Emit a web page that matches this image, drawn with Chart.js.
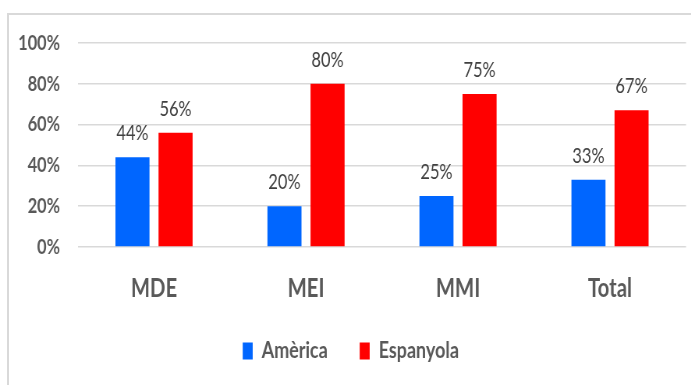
<!DOCTYPE html>
<html>
<head>
<meta charset="utf-8">
<script src="https://cdn.jsdelivr.net/npm/chart.js@4/dist/chart.umd.min.js"></script>
<style>
    html, body {
        margin: 0;
        padding: 0;
        background: #fff;
        width: 691px;
        height: 385px;
        overflow: hidden;
    }
    #frame {
        position: absolute;
        left: 7px;
        top: 13px;
        width: 720px;
        height: 420px;
        border-left: 2px solid #d9d9d9;
        border-top: 2px solid #d9d9d9;
    }
    /* chart is laid out wide and squeezed back to 691px, giving the narrow lettering */
    #wrap {
        position: absolute;
        left: 0;
        top: 0;
        width: 886px;
        height: 385px;
        transform: scaleX(0.78);
        transform-origin: 0 0;
    }
    #chart {
        display: block;
        width: 886px;
        height: 385px;
    }
</style>
</head>
<body>
<div id="frame"></div>
<div id="wrap"><canvas id="chart" width="886" height="385"></canvas></div>
<script>
const categories = ['MDE', 'MEI', 'MMI', 'Total'];
const seriesNames = ['Amèrica', 'Espanyola'];
const americaValues = [44, 20, 25, 33];
const espanyolaValues = [56, 80, 75, 67];
const yTicks = [0, 20, 40, 60, 80, 100];

const FONT = 'Lato, "Open Sans", sans-serif';

// value labels above every bar
const barLabels = {
    id: 'barLabels',
    afterDatasetsDraw(chart) {
        const ctx = chart.ctx;
        ctx.save();
        ctx.font = '21px ' + FONT;
        ctx.fillStyle = '#404040';
        ctx.textAlign = 'center';
        ctx.textBaseline = 'alphabetic';
        chart.data.datasets.forEach(function (ds, i) {
            chart.getDatasetMeta(i).data.forEach(function (bar, j) {
                ctx.fillText(ds.data[j] + '%', bar.x, bar.y - 17);
            });
        });
        ctx.restore();
    }
};

new Chart(document.getElementById('chart').getContext('2d'), {
    type: 'bar',
    data: {
        labels: categories,
        datasets: [
            {
                label: seriesNames[0],
                data: americaValues,
                backgroundColor: '#0066ff',
                categoryPercentage: 0.567,
                barPercentage: 0.79
            },
            {
                label: seriesNames[1],
                data: espanyolaValues,
                backgroundColor: '#ff0000',
                categoryPercentage: 0.567,
                barPercentage: 0.79
            }
        ]
    },
    options: {
        responsive: false,
        animation: false,
        devicePixelRatio: 1,
        layout: {
            // some left padding also nudges the centred legend to the right
            padding: { left: 20, right: 6.5, top: 43, bottom: 12.5 }
        },
        scales: {
            y: {
                min: 0,
                max: 100,
                afterFit: function (axis) { axis.width = 80; },
                afterBuildTicks: function (axis) {
                    axis.ticks = yTicks.map(v => ({ value: v }));
                },
                border: { display: false },
                grid: {
                    color: '#d9d9d9',
                    lineWidth: 1.5,
                    drawTicks: false
                },
                ticks: {
                    padding: 23,
                    color: '#595959',
                    font: { family: FONT, size: 21, weight: 'bold' },
                    callback: v => v + '%'
                }
            },
            x: {
                afterFit: function (axis) { axis.height = 51.5; },
                border: { display: false },
                grid: { display: false, drawTicks: false },
                ticks: {
                    padding: 26,
                    color: '#595959',
                    font: { family: FONT, size: 26, weight: 'bold' }
                }
            }
        },
        plugins: {
            legend: {
                display: true,
                position: 'bottom',
                labels: {
                    boxWidth: 12.8,
                    boxHeight: 17,
                    padding: 41,
                    color: '#595959',
                    font: { family: FONT, size: 23, weight: 'bold' }
                }
            },
            tooltip: { enabled: false }
        }
    },
    plugins: [barLabels]
});
</script>
</body>
</html>
